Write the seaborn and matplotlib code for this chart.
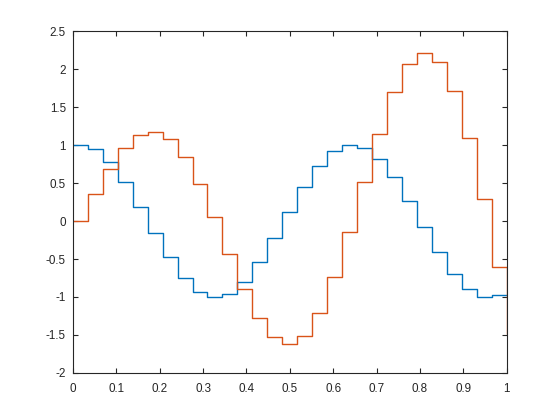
import matplotlib
matplotlib.use("Agg")
import matplotlib.pyplot as plt
import seaborn as sns
import pandas as pd
from matplotlib.ticker import FuncFormatter

x = [0.0, 0.0345, 0.069, 0.1034, 0.1379, 0.1724, 0.2069, 0.2414, 0.2759, 0.3103,
     0.3448, 0.3793, 0.4138, 0.4483, 0.4828, 0.5172, 0.5517, 0.5862, 0.6207, 0.6552,
     0.6897, 0.7241, 0.7586, 0.7931, 0.8276, 0.8621, 0.8966, 0.931, 0.9655, 1.0]

blue = [1.0, 0.947, 0.776, 0.508, 0.184, -0.158, -0.474, -0.75, -0.934, -1.0,
        -0.966, -0.803, -0.539, -0.224, 0.118, 0.447, 0.724, 0.921, 0.995, 0.965,
        0.816, 0.579, 0.263, -0.079, -0.408, -0.693, -0.895, -1.0, -0.974, -0.97]

orange = [0.0, 0.359, 0.684, 0.964, 1.132, 1.171, 1.083, 0.846, 0.487, 0.053,
          -0.434, -0.895, -1.272, -1.522, -1.618, -1.513, -1.21, -0.733, -0.145, 0.513,
          1.145, 1.701, 2.07, 2.211, 2.092, 1.714, 1.096, 0.289, -0.605, -1.487]

x_ticks = [0, 0.1, 0.2, 0.3, 0.4, 0.5, 0.6, 0.7, 0.8, 0.9, 1]
y_ticks = [-2, -1.5, -1, -0.5, 0, 0.5, 1, 1.5, 2, 2.5]

df = pd.DataFrame({
    "x": x + x,
    "y": blue + orange,
    "series": ["Y1"] * len(x) + ["Y2"] * len(x),
})

sns.set_style("white")
plt.rcParams["font.family"] = ["Liberation Sans", "DejaVu Sans"]

fig = plt.figure(figsize=(5.6, 4.2), dpi=100, facecolor="white")
ax = fig.add_axes([0.13, 0.112, 0.775, 0.814])

sns.lineplot(data=df, x="x", y="y", hue="series", palette=["#0072BD", "#D95319"],
             drawstyle="steps-post", estimator=None, legend=False, linewidth=1.0, ax=ax)

ax.set_xlim(0, 1)
ax.set_ylim(-2, 2.5)
ax.set_xticks(x_ticks)
ax.set_yticks(y_ticks)
fmt = FuncFormatter(lambda v, p: "%g" % v)
ax.xaxis.set_major_formatter(fmt)
ax.yaxis.set_major_formatter(fmt)
ax.set_xlabel("")
ax.set_ylabel("")

edge = "#262626"
for s in ax.spines.values():
    s.set_visible(True)
    s.set_color(edge)
    s.set_linewidth(0.8)
ax.tick_params(direction="in", length=3.6, width=0.8, colors=edge, labelcolor=edge,
               labelsize=8.4, top=True, right=True, bottom=True, left=True,
               labeltop=False, labelright=False)
ax.tick_params(axis="x", pad=7.5)
ax.tick_params(axis="y", pad=5)

fig.savefig("out.png", dpi=100, facecolor="white")
